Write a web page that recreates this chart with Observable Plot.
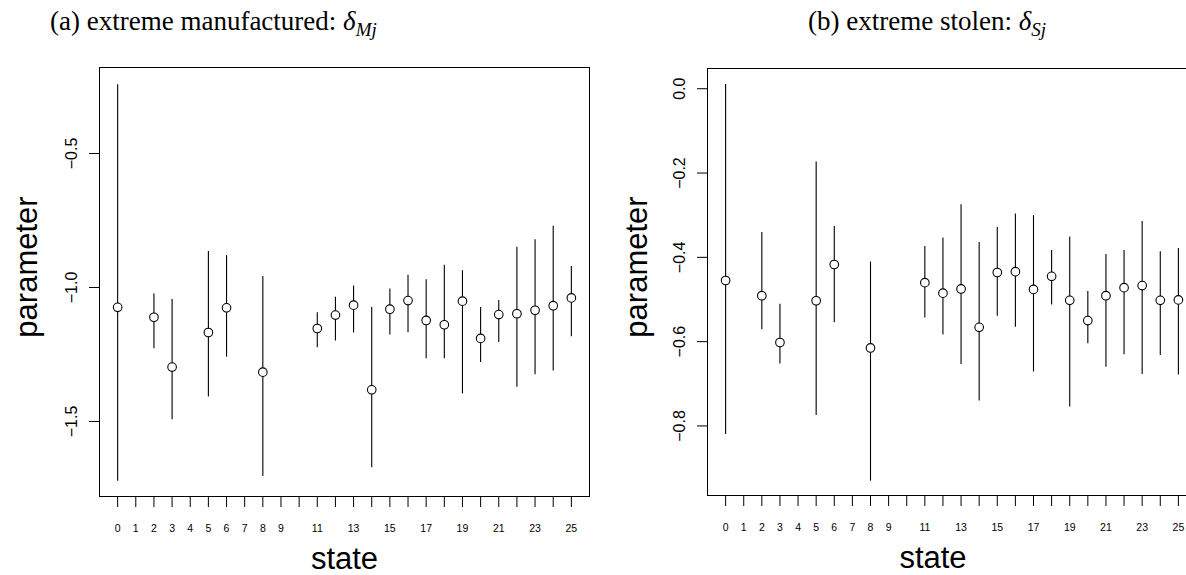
<!DOCTYPE html>
<html>
<head>
<meta charset="utf-8">
<script src="https://cdn.jsdelivr.net/npm/d3@7"></script>
<script src="https://cdn.jsdelivr.net/npm/@observablehq/plot@0.6"></script>
<style>
  html, body { margin: 0; padding: 0; background: #fff; }
  #wrap { position: relative; width: 1186px; height: 575px; overflow: hidden; background: #fff; }
  .title { position: absolute; top: 6px; font-family: "Liberation Serif", "DejaVu Serif", serif; font-size: 27px; color: #000; white-space: nowrap; }
  .title sub { font-size: 19px; vertical-align: -6px; line-height: 0; }
  .panel { position: absolute; top: 0; width: 600px; height: 575px; }
  .panel svg { max-width: none !important; display: block; }
</style>
</head>
<body>
<div id="wrap">
  <div class="title" id="ta" style="left:50px">(a) extreme manufactured: <i>δ</i><sub><i>Mj</i></sub></div>
  <div class="title" id="tb" style="left:808px">(b) extreme stolen: <i>δ</i><sub><i>Sj</i></sub></div>
  <div class="panel" id="pa" style="left:0px"></div>
  <div class="panel" id="pb" style="left:600px"></div>
</div>
<script>
// ---- data ----
const states = [0, 2, 3, 5, 6, 8, 11, 12, 13, 14, 15, 16, 17, 18, 19, 20, 21, 22, 23, 24, 25];

// (a) extreme manufactured
const manufEst   = [-1.074, -1.111, -1.297, -1.168, -1.076, -1.316, -1.153, -1.103, -1.066, -1.382, -1.081, -1.049, -1.123, -1.139, -1.051, -1.190, -1.101, -1.098, -1.085, -1.068, -1.039];
const manufLower = [-1.723, -1.229, -1.494, -1.409, -1.260, -1.705, -1.225, -1.200, -1.170, -1.673, -1.177, -1.169, -1.266, -1.266, -1.397, -1.280, -1.205, -1.372, -1.326, -1.312, -1.184];
const manufUpper = [-0.243, -1.024, -1.045, -0.866, -0.881, -0.959, -1.094, -1.036, -0.994, -1.075, -1.006, -0.954, -0.971, -0.917, -0.937, -1.075, -1.049, -0.850, -0.822, -0.771, -0.922];

// (b) extreme stolen
const stolenEst   = [-0.455, -0.491, -0.602, -0.503, -0.417, -0.615, -0.460, -0.485, -0.475, -0.566, -0.436, -0.434, -0.476, -0.445, -0.502, -0.550, -0.491, -0.472, -0.467, -0.502, -0.501];
const stolenLower = [-0.820, -0.572, -0.653, -0.775, -0.555, -0.931, -0.544, -0.584, -0.654, -0.741, -0.540, -0.566, -0.672, -0.513, -0.755, -0.605, -0.661, -0.631, -0.678, -0.633, -0.679];
const stolenUpper = [ 0.010, -0.341, -0.511, -0.174, -0.327, -0.411, -0.374, -0.354, -0.275, -0.365, -0.329, -0.297, -0.301, -0.384, -0.352, -0.481, -0.393, -0.384, -0.315, -0.387, -0.379];

// axis ticks
const xTicks = [0,1,2,3,4,5,6,7,8,9,10,11,12,13,14,15,16,17,18,19,20,21,22,23,24,25];
const xTickLabels = [0,1,2,3,4,5,6,7,8,9,11,13,15,17,19,21,23,25];
const yTicksA = [-1.5, -1.0, -0.5];
const yTicksB = [-0.8, -0.6, -0.4, -0.2, 0.0];

const tableA = states.map((s, i) => ({state: s, est: manufEst[i], lo: manufLower[i], hi: manufUpper[i]}));
const tableB = states.map((s, i) => ({state: s, est: stolenEst[i], lo: stolenLower[i], hi: stolenUpper[i]}));

const labelSet = new Set(xTickLabels);
const fmt = d3.format(".1f");

function panel(table, opts) {
  return Plot.plot({
    width: 600,
    height: 575,
    marginLeft: opts.marginLeft,
    marginRight: opts.marginRight,
    marginTop: opts.marginTop,
    marginBottom: opts.marginBottom,
    style: {fontFamily: "'Liberation Sans', Arial, Helvetica, sans-serif", color: "#000", background: "transparent", overflow: "visible"},
    x: {domain: [-1, 26]},
    y: {domain: opts.yDomain},
    marks: [
      Plot.frame({stroke: "#000", strokeWidth: 1}),
      Plot.axisX({ticks: xTicks, tickSize: 11, tickPadding: 17, fontSize: 10.5,
                  tickFormat: d => labelSet.has(d) ? String(d) : "", label: null}),
      Plot.axisY({ticks: opts.yTicks, tickSize: 10, tickPadding: 13, tickRotate: -90, fontSize: 16,
                  tickFormat: d => fmt(d), label: null}),
      Plot.ruleX(table, {x: "state", y1: "lo", y2: "hi", stroke: "#000", strokeWidth: 1.1}),
      Plot.dot(table, {x: "state", y: "est", r: 4.3, stroke: "#000", fill: "#fff", strokeWidth: 1.1}),
      Plot.text(["state"], {frameAnchor: "bottom", textAnchor: "middle", dy: 72, dx: opts.xLabelDx, fontSize: 31}),
      Plot.text(["parameter"], {frameAnchor: "left", textAnchor: "middle", rotate: -90, dx: opts.yLabelDx, dy: -15, fontSize: 31})
    ]
  });
}

document.getElementById("pa").append(panel(tableA, {
  marginLeft: 99, marginRight: 11, marginTop: 67, marginBottom: 79,
  yDomain: [-1.780, -0.179], yTicks: yTicksA, xLabelDx: 0, yLabelDx: -72
}));
document.getElementById("pb").append(panel(tableB, {
  marginLeft: 107, marginRight: 4, marginTop: 68, marginBottom: 80,
  yDomain: [-0.965, 0.048], yTicks: yTicksB, xLabelDx: -19, yLabelDx: -70
}));
</script>
</body>
</html>
